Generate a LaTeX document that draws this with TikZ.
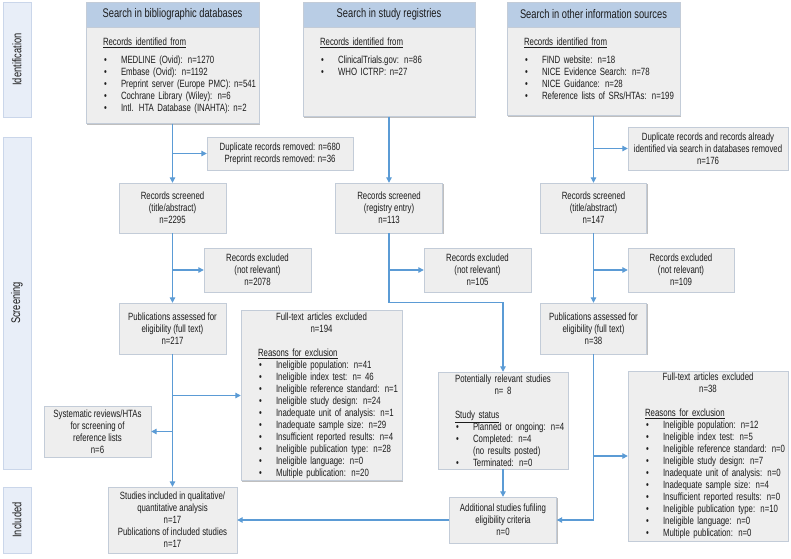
\documentclass[tikz,border=0pt]{standalone}
\usepackage{fontspec}
\setmainfont{Liberation Sans}[FakeStretch=0.745]
\usepackage{graphicx}
\usetikzlibrary{positioning,shadows,arrows.meta}

\definecolor{boxfill}{HTML}{EEEEEE}
\definecolor{boxline}{HTML}{C3CCD8}
\definecolor{headfill}{HTML}{B9CDE5}
\definecolor{sidefill}{HTML}{E8EEF8}
\definecolor{sideline}{HTML}{CAD6EA}
\definecolor{flowblue}{HTML}{5B9BD5}
\definecolor{txtcol}{HTML}{1C1C1C}

% bullet line inside the list boxes
\newcommand{\bul}[1]{\par\noindent\makebox[18pt][l]{\hspace{1pt}\textbullet}\mbox{#1}\par}
% centred title line that may run wider than the text width
\newcommand{\ttl}[1]{\noindent\makebox[\linewidth][c]{#1}\par}

\begin{document}
\begin{tikzpicture}[
    x=1pt,
    y=-1pt,
    card/.style={
        draw=boxline,
        fill=boxfill,
        text=txtcol,
        font=\fontsize{10.5}{12}\selectfont,
        drop shadow={shadow xshift=1.3pt, shadow yshift=-1.3pt, fill=black!25, opacity=1}
    },
    box/.style={
        card,
        align=center,
        inner sep=1pt
    },
    listbox/.style={
        card,
        inner xsep=17pt,
        inner ysep=2pt
    },
    head/.style={
        card,
        fill=headfill,
        minimum height=25pt,
        inner sep=0pt,
        font=\fontsize{12.5}{14}\selectfont
    },
    srcbody/.style={
        card,
        inner xsep=17pt,
        inner ysep=10pt,
        text height=8.5pt
    },
    phase/.style={
        card,
        draw=sideline,
        fill=sidefill,
        minimum width=28pt,
        inner sep=0pt,
        font=\fontsize{12.5}{14}\selectfont
    },
    flow/.style={
        draw=flowblue,
        line width=1.1pt,
        -{Triangle[width=5.5pt,length=5.5pt]}
    }
]
    \useasboundingbox (0,0) rectangle (791,558);

    % Phase labels
    \node[phase, minimum height=115pt] (idlab) at (17,59.5) {\rotatebox{90}{Identification}};
    \node[phase, minimum height=332pt] (scrlab) at (17,303) {\rotatebox{90}{Screening}};
    \node[phase, minimum height=66pt] (inclab) at (17,520) {\rotatebox{90}{Included}};

    % Sources
    \node[head, minimum width=173pt] (dbh) at (172.5,14.5) {Search in bibliographic databases};
    \node[srcbody, text width=139pt, text depth=67.5pt] (db) [below=0pt of dbh] {%
        \underline{Records identified from}\par\vspace{6pt}%
        \bul{MEDLINE (Ovid): n=1270}%
        \bul{Embase (Ovid): n=1192}%
        \bul{Preprint server (Europe PMC): n=541}%
        \bul{Cochrane Library (Wiley): n=6}%
        \bul{Intl. HTA Database (INAHTA): n=2}};

    \node[head, minimum width=172pt] (regh) at (389,14.5) {Search in study registries};
    \node[srcbody, text width=138pt, text depth=60.5pt] (reg) [below=0pt of regh] {%
        \underline{Records identified from}\par\vspace{6pt}%
        \bul{ClinicalTrials.gov: n=86}%
        \bul{WHO ICTRP: n=27}};

    \node[head, minimum width=173pt] (othh) at (593.5,14.5) {Search in other information sources};
    \node[srcbody, text width=139pt, text depth=59.5pt] (oth) [below=0pt of othh] {%
        \underline{Records identified from}\par\vspace{6pt}%
        \bul{FIND website: n=18}%
        \bul{NICE Evidence Search: n=78}%
        \bul{NICE Guidance: n=28}%
        \bul{Reference lists of SRs/HTAs: n=199}};

    % Duplicates
    \node[box, minimum width=146pt, minimum height=33pt] (dup1) at (280,153.5)
        {Duplicate records removed: n=680\\Preprint records removed: n=36};
    \node[box, minimum width=160pt, minimum height=43pt] (dup3) at (708,148.5)
        {Duplicate records and records already\\identified via search in databases removed\\n=176};

    % Screening
    \node[box, minimum width=107pt, minimum height=50pt] (scr1) at (172.5,208) {Records screened\\(title/abstract)\\n=2295};
    \node[box, minimum width=107pt, minimum height=50pt] (scr2) at (389,208) {Records screened\\(registry entry)\\n=113};
    \node[box, minimum width=106pt, minimum height=50pt] (scr3) at (593.5,208) {Records screened\\(title/abstract)\\n=147};

    \node[box, minimum width=107pt, minimum height=44pt] (exc1) at (257.5,270) {Records excluded\\(not relevant)\\n=2078};
    \node[box, minimum width=107pt, minimum height=44pt] (exc2) at (477.5,270) {Records excluded\\(not relevant)\\n=105};
    \node[box, minimum width=106pt, minimum height=44pt] (exc3) at (681,270) {Records excluded\\(not relevant)\\n=109};

    \node[box, minimum width=107pt, minimum height=51pt] (pub1) at (172.5,328.5) {Publications assessed for\\eligibility (full text)\\n=217};
    \node[box, minimum width=106pt, minimum height=51pt] (pub3) at (593.5,328.5) {Publications assessed for\\eligibility (full text)\\n=38};

    % Exclusions after full text
    \node[listbox, text width=127pt, minimum height=169pt] (ftx1) at (321.5,395.5) {%
        \ttl{Full-text articles excluded}\ttl{n=194}\vspace{12pt}%
        \underline{Reasons for exclusion}\par
        \bul{Ineligible population: n=41}%
        \bul{Ineligible index test: n= 46}%
        \bul{Ineligible reference standard: n=1}%
        \bul{Ineligible study design: n=24}%
        \bul{Inadequate unit of analysis: n=1}%
        \bul{Inadequate sample size: n=29}%
        \bul{Insufficient reported results: n=4}%
        \bul{Ineligible publication type: n=28}%
        \bul{Ineligible language: n=0}%
        \bul{Multiple publication: n=20}};

    \node[listbox, text width=96pt, minimum height=97pt] (pot) at (503,420.5) {%
        \ttl{Potentially relevant studies}\ttl{n= 8}\vspace{12pt}%
        \underline{Study status}\par
        \bul{Planned or ongoing: n=4}%
        \bul{Completed: n=4}%
        \noindent\hspace*{18pt}(no results posted)\par
        \bul{Terminated: n=0}};

    \node[listbox, text width=126pt, minimum height=170pt] (ftx3) at (708,456) {%
        \ttl{Full-text articles excluded}\ttl{n=38}\vspace{12pt}%
        \underline{Reasons for exclusion}\par
        \bul{Ineligible population: n=12}%
        \bul{Ineligible index test: n=5}%
        \bul{Ineligible reference standard: n=0}%
        \bul{Ineligible study design: n=7}%
        \bul{Inadequate unit of analysis: n=0}%
        \bul{Inadequate sample size: n=4}%
        \bul{Insufficient reported results: n=0}%
        \bul{Ineligible publication type: n=10}%
        \bul{Ineligible language: n=0}%
        \bul{Multiple publication: n=0}};

    \node[box, minimum width=107pt, minimum height=51pt] (sys) at (97.5,431.5)
        {Systematic reviews/HTAs\\for screening of\\reference lists\\n=6};

    % Included
    \node[box, minimum width=129pt, minimum height=66pt] (inc) at (172.5,520)
        {Studies included in qualitative/\\quantitative analysis\\n=17\\Publications of included studies\\n=17};
    \node[box, minimum width=107pt, minimum height=46pt] (add) at (503,520)
        {Additional studies fufiling\\eligibility criteria\\n=0};

    % Connections
    \draw[flow] (db) -- (scr1);
    \draw[flow] (db.south |- dup1) -- (dup1);
    \draw[flow] (reg) -- (scr2);
    \draw[flow] (oth) -- (scr3);
    \draw[flow] (oth.south |- dup3) -- (dup3);

    \draw[flow] (scr1) -- (pub1);
    \draw[flow] (scr1.south |- exc1) -- (exc1);
    \draw[flow] (scr2.south |- exc2) -- (exc2);
    \draw[flow] (scr2.south) -- (scr2.south |- pub1.north) -| (pot.north);
    \draw[flow] (scr3) -- (pub3);
    \draw[flow] (scr3.south |- exc3) -- (exc3);

    \draw[flow] (pub1) -- (inc);
    \draw[flow] (pub1.south |- ftx1) -- (ftx1);
    \draw[flow] (pub1.south |- sys) -- (sys);
    \draw[flow] (pub3) |- (add);
    \draw[flow] (pub3.south |- ftx3) -- (ftx3);
    \draw[flow] (pot) -- (add);
    \draw[flow] (add) -- (inc);

\end{tikzpicture}
\end{document}
